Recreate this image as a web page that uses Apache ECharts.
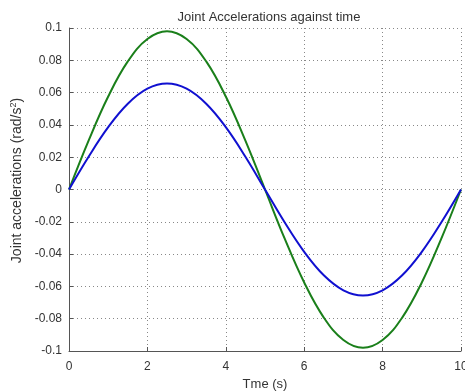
<!DOCTYPE html>
<html><head><meta charset="utf-8">
<script src="https://cdn.jsdelivr.net/npm/echarts@6/dist/echarts.min.js"></script>
<style>html,body{margin:0;padding:0;background:#fff}#c{width:465px;height:392px}</style>
</head><body><div id="c"></div>
<script>
var times = [0,0.5,1,1.5,2,2.5,3,3.5,4,4.5,5,5.5,6,6.5,7,7.5,8,8.5,9,9.5,10];
var joint1 = [0,0.0303,0.0576,0.0793,0.0932,0.098,0.0932,0.0793,0.0576,0.0303,0,-0.0303,-0.0576,-0.0793,-0.0932,-0.098,-0.0932,-0.0793,-0.0576,-0.0303,0];
var joint2 = [0,0.0203,0.0386,0.0531,0.0624,0.0656,0.0624,0.0531,0.0386,0.0203,0,-0.0203,-0.0386,-0.0531,-0.0624,-0.0656,-0.0624,-0.0531,-0.0386,-0.0203,0];
var xTicks = ['0','2','4','6','8','10'];
var yTicks = ['-0.1','-0.08','-0.06','-0.04','-0.02','0','0.02','0.04','0.06','0.08','0.1'];

var font = 'Liberation Sans, Arial, sans-serif';
function pairs(xs, ys){ return xs.map(function(x,i){return [x, ys[i]];}); }
var chart = echarts.init(document.getElementById('c'), null, {renderer:'canvas'});
chart.setOption({
  animation:false,
  backgroundColor:'#fff',
  title:{text:'Joint Accelerations against time', left:264, top:6, textAlign:'center',
    textStyle:{fontFamily:font, fontSize:13, fontWeight:'normal', color:'#333'}},
  grid:{left:69, right:4, top:28, bottom:41, containLabel:false, outerBoundsMode:'none'},
  xAxis:{type:'value', min:0, max:10, interval:2,
    name:'Tme (s)', nameLocation:'middle', nameGap:27,
    nameTextStyle:{fontFamily:font, fontSize:13, color:'#333'},
    axisLine:{show:true, onZero:false, lineStyle:{color:'#555', width:1}},
    axisTick:{show:true, inside:true, length:4, lineStyle:{color:'#555'}},
    axisLabel:{fontFamily:font, fontSize:12, color:'#333', margin:10, hideOverlap:false, showMaxLabel:true,
      formatter:function(v){ return xTicks[Math.round(v/2)]; }},
    splitLine:{show:true, lineStyle:{color:'#888', type:[1,3], width:1}}},
  yAxis:{type:'value', min:-0.1, max:0.1, interval:0.02,
    name:'{a|Joint accelerations (rad/s}{s|2}{a|)}', nameLocation:'middle', nameGap:42, nameRotate:90,
    nameTextStyle:{padding:[0,0,0,18], rich:{a:{fontFamily:font, fontSize:14, color:'#333'}, s:{fontFamily:font, fontSize:9, color:'#333', verticalAlign:'top', padding:[0,0,7,0]}}},
    axisLine:{show:true, onZero:false, lineStyle:{color:'#555', width:1}},
    axisTick:{show:true, inside:true, length:4, lineStyle:{color:'#555'}},
    axisLabel:{fontFamily:font, fontSize:12, color:'#333', margin:7,
      formatter:function(v){ return yTicks[Math.round((v+0.1)/0.02)]; }},
    splitLine:{show:true, lineStyle:{color:'#888', type:[1,3], width:1}}},
  series:[
    {type:'line', data:pairs(times, joint1), smooth:0.4, showSymbol:false, lineStyle:{color:'#1a7f1a', width:2}},
    {type:'line', data:pairs(times, joint2), smooth:0.4, showSymbol:false, lineStyle:{color:'#1010d0', width:2}}
  ]
});
</script></body></html>
